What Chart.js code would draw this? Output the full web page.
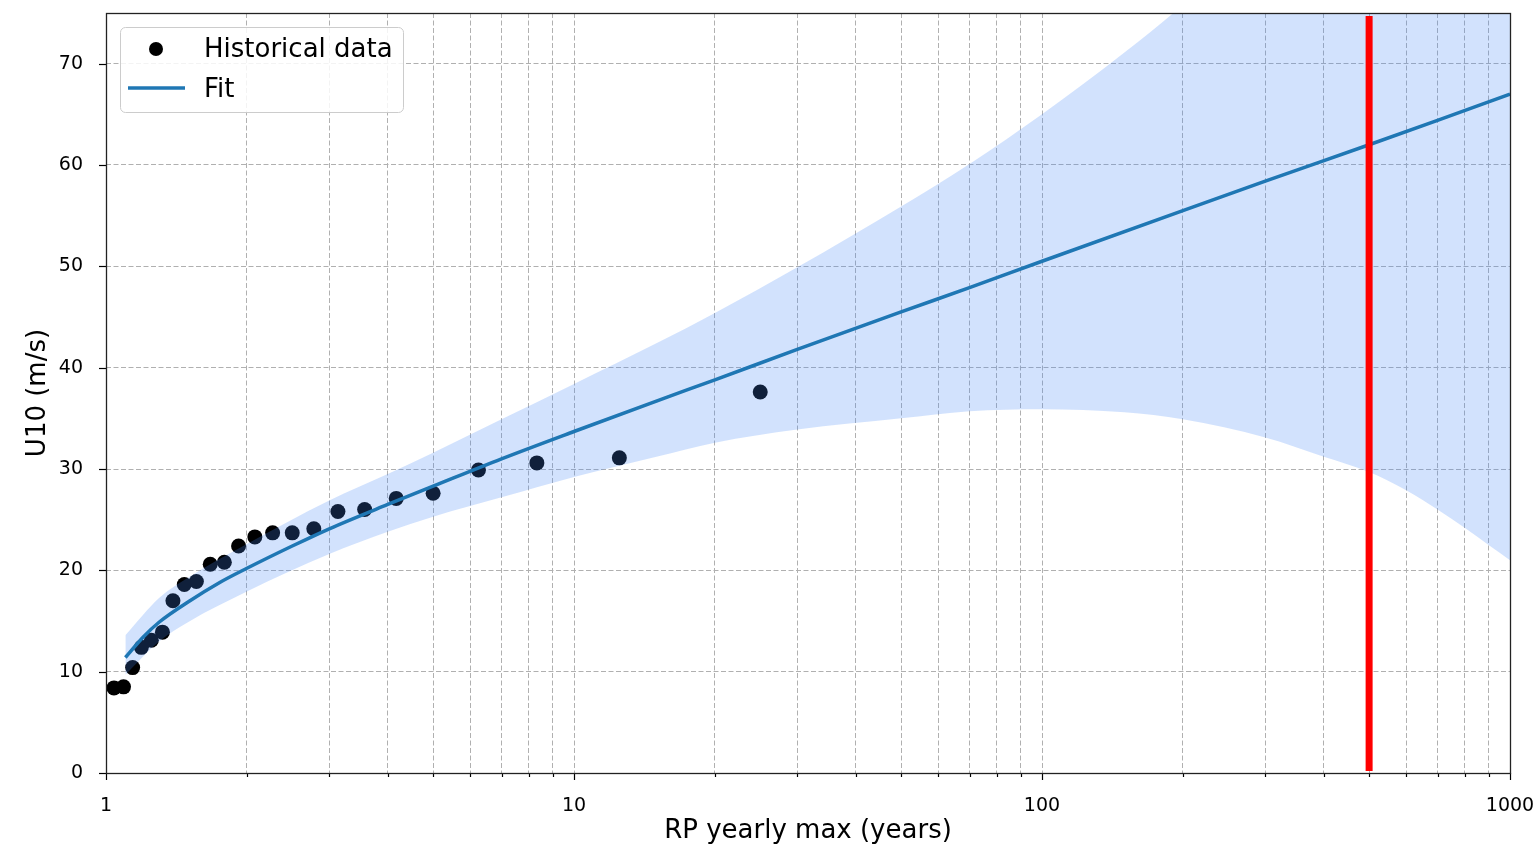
<!DOCTYPE html>
<html>
<head>
<meta charset="utf-8">
<script src="https://cdn.jsdelivr.net/npm/chart.js@4.4.1/dist/chart.umd.min.js"></script>
<style>
  html, body { margin: 0; padding: 0; background: #fff; }
  #wrap { width: 1538px; height: 849px; }
</style>
</head>
<body>
<div id="wrap"><canvas id="rpChart" width="1538" height="849"></canvas></div>
<script>
// observed yearly maxima at their return period
const histRP = [1.04, 1.09, 1.14, 1.19, 1.25, 1.32, 1.39, 1.47, 1.56, 1.67, 1.79, 1.92,
                2.08, 2.27, 2.5, 2.78, 3.13, 3.57, 4.17, 5, 6.25, 8.33, 12.5, 25];
const histU10 = [8.4, 8.5, 10.4, 12.4, 13.1, 13.9, 17.0, 18.6, 18.9, 20.6, 20.8, 22.4,
                 23.3, 23.7, 23.7, 24.1, 25.8, 26.0, 27.1, 27.6, 29.9, 30.6, 31.1, 37.6];

// fitted return level curve
const fitRP = [1.1, 1.2, 1.3, 1.5, 1.75, 2, 2.5, 3, 4, 5, 7, 10, 15, 20, 30, 50, 70, 100, 200, 300, 500, 700, 1000];
const fitU10 = [11.4, 13.4, 14.9, 16.9, 18.8, 20.2, 22.4, 24.1, 26.5, 28.3, 31.0, 33.7, 36.7, 38.8, 41.8,
                45.5, 47.9, 50.5, 55.5, 58.4, 62.0, 64.4, 67.0];

// confidence band of the fit
const bandRP = [1.1, 1.3, 1.5, 2, 3, 4, 5, 7, 10, 15, 20, 30, 50, 70, 100, 150, 200, 300, 400, 500, 600, 700, 800, 900, 1000];
const bandLow = [9.7, 13.0, 14.9, 17.9, 21.6, 23.8, 25.3, 27.2, 29.2, 31.2, 32.6, 33.9, 35.0, 35.7, 35.9,
                 35.6, 34.9, 33.1, 31.2, 29.7, 27.9, 26.0, 24.2, 22.5, 21.0];
const bandHigh = [13.6, 17.3, 19.3, 22.6, 26.9, 29.5, 31.6, 34.9, 38.4, 42.4, 45.4, 49.9, 55.9, 60.1, 65.0,
                  71.1, 75.8, 83.2, 90, 96, 101, 106, 110, 114, 117];

// design return period marker (500 years)
const markRP = [500, 500];
const markU10 = [0.2, 74.7];

// axes
const xGridTicks = [1, 2, 3, 4, 5, 6, 7, 8, 9, 10, 20, 30, 40, 50, 60, 70, 80, 90,
                    100, 200, 300, 400, 500, 600, 700, 800, 900, 1000];
const xLabelTicks = [1, 10, 100, 1000];
const yTicks = [0, 10, 20, 30, 40, 50, 60, 70];

const FONT = '"DejaVu Sans", sans-serif';
const toXY = (xs, ys) => xs.map((x, i) => ({ x: x, y: ys[i] }));

// keep the plot area where the reference has it: no extra padding for overflowing labels
function noLabelPadding(scale) {
    scale.paddingTop = 0;
    scale.paddingBottom = 0;
    scale.paddingLeft = 0;
    scale.paddingRight = 0;
}

// spines, tick marks and the legend box inside the plot (matplotlib style)
const frameAndLegend = {
    id: 'frameAndLegend',
    afterDraw(chart) {
        const ctx = chart.ctx;
        const a = chart.chartArea;
        const xs = chart.scales.x;
        const ys = chart.scales.y;
        ctx.save();

        ctx.strokeStyle = '#000';
        ctx.lineWidth = 1.2;
        xs.ticks.forEach(t => {
            const px = Math.round(xs.getPixelForValue(t.value)) + 0.5;
            const len = xLabelTicks.includes(t.value) ? 7 : 4;
            ctx.beginPath();
            ctx.moveTo(px, a.bottom);
            ctx.lineTo(px, a.bottom + len);
            ctx.stroke();
        });
        ys.ticks.forEach(t => {
            const py = Math.round(ys.getPixelForValue(t.value)) + 0.5;
            ctx.beginPath();
            ctx.moveTo(a.left - 7, py);
            ctx.lineTo(a.left, py);
            ctx.stroke();
        });

        ctx.strokeStyle = '#222';
        ctx.lineWidth = 1.3;
        ctx.strokeRect(Math.round(a.left) + 0.5, Math.round(a.top) + 0.5,
                       Math.round(a.right - a.left), Math.round(a.bottom - a.top));

        // legend
        const lx = a.left + 14, ly = a.top + 14;
        ctx.beginPath();
        ctx.roundRect(lx + 0.5, ly + 0.5, 283, 85, 5);
        ctx.fillStyle = 'rgba(255,255,255,0.85)';
        ctx.fill();
        ctx.strokeStyle = '#cccccc';
        ctx.lineWidth = 1;
        ctx.stroke();

        ctx.fillStyle = '#000';
        ctx.beginPath();
        ctx.arc(lx + 36, ly + 22, 7, 0, Math.PI * 2);
        ctx.fill();

        ctx.strokeStyle = '#1f77b4';
        ctx.lineWidth = 3.5;
        ctx.beginPath();
        ctx.moveTo(lx + 8, ly + 61);
        ctx.lineTo(lx + 65, ly + 61);
        ctx.stroke();

        ctx.font = '26px ' + FONT;
        ctx.textBaseline = 'alphabetic';
        ctx.textAlign = 'left';
        ctx.fillStyle = '#000';
        ctx.fillText('Historical data', lx + 84, ly + 30);
        ctx.fillText('Fit', lx + 84, ly + 70);
        ctx.restore();
    }
};

new Chart(document.getElementById('rpChart'), {
    type: 'line',
    data: {
        datasets: [
            {
                label: 'RP 500',
                data: toXY(markRP, markU10),
                borderColor: '#ff0000',
                borderWidth: 7,
                borderCapStyle: 'butt',
                pointRadius: 0,
                order: 0
            },
            {
                label: 'Fit',
                data: toXY(fitRP, fitU10),
                borderColor: '#1f77b4',
                borderWidth: 3.5,
                pointRadius: 0,
                cubicInterpolationMode: 'monotone',
                order: 1
            },
            {
                label: 'upper',
                data: toXY(bandRP, bandHigh),
                borderColor: 'rgba(0,0,0,0)',
                borderWidth: 0,
                pointRadius: 0,
                fill: '+1',
                backgroundColor: 'rgba(66,135,245,0.24)',
                cubicInterpolationMode: 'monotone',
                order: 2
            },
            {
                label: 'lower',
                data: toXY(bandRP, bandLow),
                borderColor: 'rgba(0,0,0,0)',
                borderWidth: 0,
                pointRadius: 0,
                fill: false,
                cubicInterpolationMode: 'monotone',
                order: 3
            },
            {
                label: 'Historical data',
                data: toXY(histRP, histU10),
                showLine: false,
                pointRadius: 7.5,
                pointBackgroundColor: '#000',
                pointBorderWidth: 0,
                order: 4
            }
        ]
    },
    options: {
        responsive: false,
        animation: false,
        events: [],
        layout: { padding: { top: 13, right: 28, left: 0, bottom: 0 } },
        plugins: {
            legend: { display: false },
            tooltip: { enabled: false }
        },
        scales: {
            x: {
                type: 'logarithmic',
                min: 1,
                max: 1000,
                afterBuildTicks: scale => { scale.ticks = xGridTicks.map(v => ({ value: v })); },
                afterFit: scale => { scale.height = 76; noLabelPadding(scale); },
                grid: { color: '#b0b0b0', lineWidth: 1, drawTicks: false },
                border: { display: false, dash: [5, 2.5] },
                ticks: {
                    autoSkip: false,
                    maxRotation: 0,
                    padding: 22,
                    color: '#000',
                    font: { family: FONT, size: 19 },
                    callback: value => xLabelTicks.includes(value) ? String(value) : ''
                },
                title: {
                    display: true,
                    text: 'RP yearly max (years)',
                    color: '#000',
                    font: { family: FONT, size: 26, lineHeight: 1 },
                    padding: { top: 0, bottom: 5 }
                }
            },
            y: {
                min: 0,
                max: 75,
                afterBuildTicks: scale => { scale.ticks = yTicks.map(v => ({ value: v })); },
                afterFit: scale => { scale.width = 106; noLabelPadding(scale); },
                grid: { color: '#b0b0b0', lineWidth: 1, drawTicks: false },
                border: { display: false, dash: [5, 2.5] },
                ticks: {
                    padding: 23,
                    color: '#000',
                    font: { family: FONT, size: 19 }
                },
                title: {
                    display: true,
                    text: 'U10 (m/s)',
                    color: '#000',
                    font: { family: FONT, size: 26, lineHeight: 1 },
                    padding: { top: 25, bottom: 0 }
                }
            }
        }
    },
    plugins: [frameAndLegend]
});
</script>
</body>
</html>
